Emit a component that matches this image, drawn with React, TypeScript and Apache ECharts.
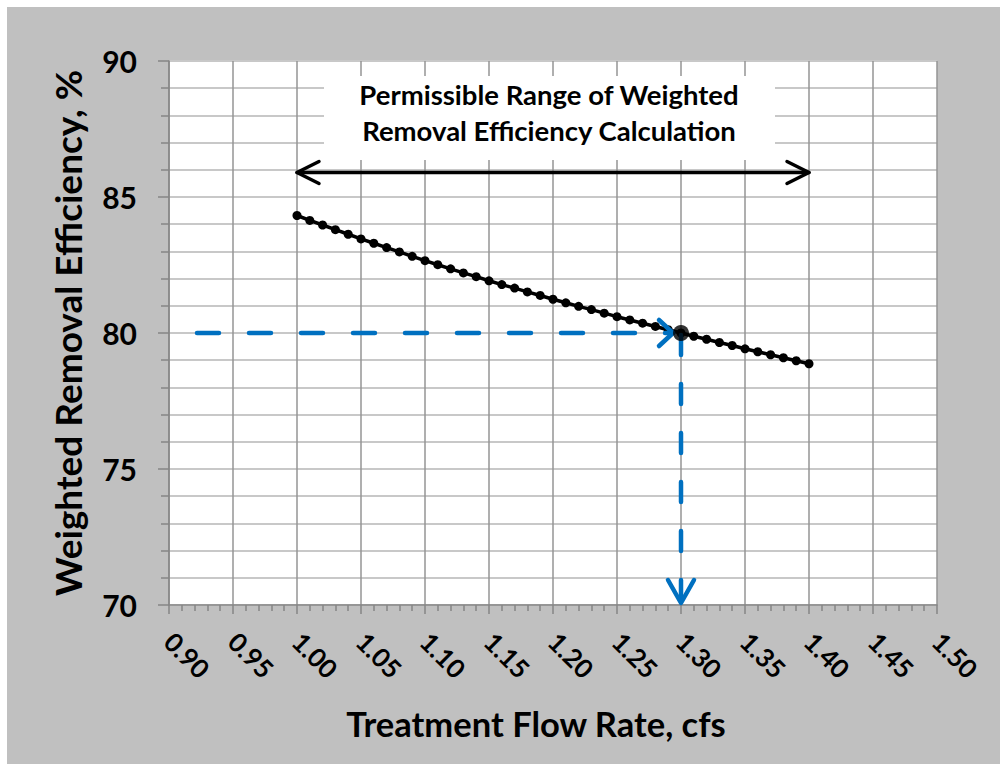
import React, { useEffect, useRef } from "react";
import * as echarts from "echarts";

// Flow rate in hundredths of cfs (100 = 1.00 cfs)
const flowRates = [
  100, 101, 102, 103, 104, 105, 106, 107, 108, 109, 110, 111, 112, 113, 114, 115, 116, 117, 118, 119, 120,
  121, 122, 123, 124, 125, 126, 127, 128, 129, 130, 131, 132, 133, 134, 135, 136, 137, 138, 139, 140,
];
const efficiency = [
  84.32, 84.14, 83.97, 83.8, 83.63, 83.46, 83.3, 83.14, 82.98, 82.82, 82.66, 82.51, 82.36, 82.21, 82.07,
  81.92, 81.78, 81.65, 81.51, 81.38, 81.24, 81.11, 80.98, 80.86, 80.73, 80.6, 80.48, 80.36, 80.24, 80.12,
  80.0, 79.88, 79.77, 79.65, 79.54, 79.42, 79.31, 79.2, 79.09, 78.98, 78.87,
];
const xTickValues = [90, 95, 100, 105, 110, 115, 120, 125, 130, 135, 140, 145, 150];
const xTickLabels = ["0.90", "0.95", "1.00", "1.05", "1.10", "1.15", "1.20", "1.25", "1.30", "1.35", "1.40", "1.45", "1.50"];
const yTickLabels = ["70", "75", "80", "85", "90"];

const targetRate = 130;
const targetEfficiency = 80;
const rangeStart = 100;
const rangeEnd = 140;
const rangeArrowLevel = 85.9;

const xMin = 90;
const xMax = 150;
const yMin = 70;
const yMax = 90;

const FONT = "Lato, 'Open Sans', sans-serif";

export default function App() {
  const ref = useRef<HTMLDivElement>(null);

  useEffect(() => {
    if (!ref.current) return;
    const chart = echarts.init(ref.current, undefined, { renderer: "svg" });
    const lineData = flowRates.map((x, i) => [x, efficiency[i]]);

    const option: any = {
      animation: false,
      backgroundColor: "#c0c0c0",
      grid: {
        left: 162,
        top: 54,
        width: 768,
        height: 544,
        show: true,
        backgroundColor: "#ffffff",
        borderWidth: 0,
        containLabel: false,
      },
      xAxis: {
        type: "value",
        min: xMin,
        max: xMax,
        interval: 5,
        axisLine: { show: true, onZero: false, lineStyle: { color: "#868686", width: 1.5 } },
        axisTick: { show: true, length: 9, lineStyle: { color: "#868686", width: 1.5 } },
        minorTick: { show: true, splitNumber: 5, length: 6, lineStyle: { color: "#868686", width: 1.5 } },
        splitLine: { show: true, lineStyle: { color: "#949494", width: 1.5 } },
        minorSplitLine: { show: false },
        axisLabel: {
          rotate: -45,
          margin: 32,
          fontSize: 26,
          fontWeight: "bold",
          fontFamily: FONT,
          color: "#000",
          formatter: (v: number) => {
            const i = xTickValues.indexOf(Math.round(v));
            return i >= 0 ? xTickLabels[i] : "";
          },
        },
      },
      yAxis: {
        type: "value",
        min: yMin,
        max: yMax,
        interval: 5,
        axisLine: { show: true, onZero: false, lineStyle: { color: "#868686", width: 1.5 } },
        axisTick: { show: true, length: 11, lineStyle: { color: "#868686", width: 1.5 } },
        minorTick: { show: true, splitNumber: 5, length: 8, lineStyle: { color: "#868686", width: 1.5 } },
        splitLine: { show: true, lineStyle: { color: "#c8c8c8", width: 2 } },
        minorSplitLine: { show: true, lineStyle: { color: "#c8c8c8", width: 2 } },
        axisLabel: {
          margin: 32,
          fontSize: 30,
          fontWeight: "bold",
          fontFamily: FONT,
          color: "#000",
          formatter: (v: number) => {
            const s = String(Math.round(v));
            return yTickLabels.indexOf(s) >= 0 ? s : "";
          },
        },
      },
      series: [
        {
          type: "custom",
          z: 4,
          silent: true,
          clip: false,
          data: [[targetRate, targetEfficiency]],
          renderItem: (_params: any, api: any) => {
            const p = (x: number, y: number) => api.coord([x, y]);
            const [lx, ay] = p(rangeStart, rangeArrowLevel);
            const [rx] = p(rangeEnd, rangeArrowLevel);
            const [tx, ty] = p(targetRate, targetEfficiency);
            const [x0] = p(xMin, targetEfficiency);
            const [, yb] = p(targetRate, yMin);
            const black = { stroke: "#000", lineWidth: 3.5, fill: null, lineCap: "round", lineJoin: "round" };
            const blueSolid = { stroke: "#0070c0", lineWidth: 4.5, fill: null, lineCap: "round", lineJoin: "round" };
            return {
              type: "group",
              children: [
                { type: "line", shape: { x1: lx, y1: ay, x2: rx, y2: ay }, style: black },
                { type: "polyline", shape: { points: [[lx + 22, ay - 11], [lx, ay], [lx + 22, ay + 11]] }, style: black },
                { type: "polyline", shape: { points: [[rx - 22, ay - 11], [rx, ay], [rx - 22, ay + 11]] }, style: black },
                {
                  type: "line",
                  shape: { x1: x0, y1: ty, x2: tx - 8, y2: ty },
                  style: { ...blueSolid, lineDash: [22, 30], lineDashOffset: 24 },
                },
                { type: "polyline", shape: { points: [[tx - 22, ty - 13], [tx - 8, ty], [tx - 22, ty + 13]] }, style: blueSolid },
                {
                  type: "line",
                  shape: { x1: tx, y1: ty + 2, x2: tx, y2: yb - 6 },
                  style: { ...blueSolid, lineDash: [20, 29], lineDashOffset: 0 },
                },
                { type: "polyline", shape: { points: [[tx - 13, yb - 25], [tx, yb - 2], [tx + 13, yb - 25]] }, style: blueSolid },
              ],
            };
          },
        },
        {
          type: "line",
          z: 3,
          data: lineData,
          symbol: "circle",
          symbolSize: 9,
          showSymbol: true,
          itemStyle: { color: "#000" },
          lineStyle: { color: "#000", width: 3.5 },
          silent: true,
        },
        {
          type: "scatter",
          z: 6,
          data: [[targetRate, targetEfficiency]],
          symbol: "circle",
          symbolSize: 16,
          itemStyle: { color: "#000" },
          silent: true,
        },
      ],
      graphic: [
        {
          type: "rect",
          z: 100,
          shape: { x: 317, y: 69, width: 451, height: 84 },
          style: { fill: "#ffffff" },
          silent: true,
        },
        {
          type: "text",
          z: 101,
          x: 542,
          y: 105,
          style: {
            text: "Permissible Range of Weighted\nRemoval Efficiency Calculation",
            fontSize: 27.5,
            fontWeight: "bold",
            fontFamily: FONT,
            fill: "#000",
            align: "center",
            verticalAlign: "middle",
            lineHeight: 36,
          },
          silent: true,
        },
        {
          type: "text",
          z: 101,
          x: 529,
          y: 716,
          style: {
            text: "Treatment Flow Rate, cfs",
            fontSize: 34.5,
            fontWeight: "bold",
            fontFamily: FONT,
            fill: "#000",
            align: "center",
            verticalAlign: "middle",
          },
          silent: true,
        },
        {
          type: "text",
          z: 101,
          x: 60,
          y: 326,
          rotation: Math.PI / 2,
          style: {
            text: "Weighted Removal Efficiency, %",
            fontSize: 37,
            fontWeight: "bold",
            fontFamily: FONT,
            fill: "#000",
            align: "center",
            verticalAlign: "middle",
          },
          silent: true,
        },
      ],
    };

    chart.setOption(option);
    return () => chart.dispose();
  }, []);

  return (
    <div
      ref={ref}
      style={{ position: "fixed", left: 7, top: 7, width: 993, height: 757 }}
    />
  );
}
